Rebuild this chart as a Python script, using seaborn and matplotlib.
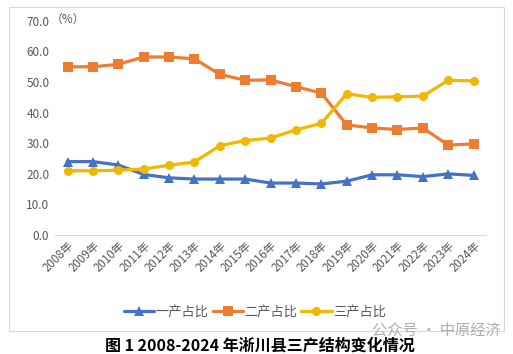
import pandas as pd
import seaborn as sns
import matplotlib.pyplot as plt
from matplotlib.patches import Rectangle

years = [f'{y}年' for y in range(2008, 2025)]
primary = [24.0, 24.0, 22.9, 19.8, 18.7, 18.3, 18.3, 18.3, 17.0, 17.0, 16.7, 17.6, 19.7, 19.7, 19.1, 20.0, 19.5]
secondary = [55.0, 55.0, 55.8, 58.2, 58.2, 57.6, 52.5, 50.6, 50.7, 48.5, 46.4, 36.0, 35.0, 34.5, 35.0, 29.4, 29.8]
tertiary = [21.0, 21.0, 21.2, 21.6, 22.8, 23.9, 29.2, 30.9, 31.7, 34.4, 36.5, 46.2, 45.0, 45.2, 45.4, 50.6, 50.4]
series_names = ['一产占比', '二产占比', '三产占比']
y_ticks = [0, 10, 20, 30, 40, 50, 60, 70]

sns.set_style('white')
plt.rcParams['font.family'] = ['Noto Sans CJK SC', 'DejaVu Sans']

df = pd.DataFrame({'年份': years * 3,
                   '值': primary + secondary + tertiary,
                   '类别': [n for n in series_names for _ in years]})
df['x'] = list(range(len(years))) * 3

palette = {'一产占比': '#4472C4', '二产占比': '#ED7D31', '三产占比': '#F0B800'}
markers = {'一产占比': '^', '二产占比': 's', '三产占比': 'o'}

fig = plt.figure(figsize=(5.13, 3.54), dpi=100)
ax = fig.add_axes([0.107, 0.336, 0.841, 0.605])

sns.lineplot(data=df, x='x', y='值', hue='类别', style='类别', markers=markers,
             dashes=False, palette=palette, linewidth=2.3, markersize=6.5,
             markeredgewidth=0, ax=ax)

ax.set_xlim(-0.5, len(years) - 0.5)
ax.set_ylim(0, 70)
ax.set_yticks(y_ticks)
ax.set_yticklabels([f'{v:.1f}' for v in y_ticks], fontsize=8.5, color='#595959')
ax.set_xticks(range(len(years)))
ax.set_xticklabels(years, rotation=45, ha='right', rotation_mode='anchor',
                   fontsize=8.3, color='#595959')
ax.tick_params(axis='both', length=0, pad=4)
ax.tick_params(axis='x', pad=3)
ax.set_xlabel('')
ax.set_ylabel('')
for s in ['top', 'right', 'left']:
    ax.spines[s].set_visible(False)
ax.spines['bottom'].set_color('#D9D9D9')
ax.text(-0.01, 70.5, '（%）', fontsize=8.5, color='#595959', va='center', ha='left',
        transform=ax.get_yaxis_transform())

handles, labels = ax.get_legend_handles_labels()
fig.legend(handles, labels, loc='center', bbox_to_anchor=(0.497, 0.119), ncol=3,
           frameon=False, fontsize=9.5, handlelength=2.3, handletextpad=0.1,
           columnspacing=0.3, labelcolor='#595959')
ax.get_legend().remove()

fig.patches.append(Rectangle((0.017, 0.065), 0.965, 0.915, transform=fig.transFigure,
                             fill=False, edgecolor='#D9D9D9', linewidth=0.8))

fig.text(0.507, 0.025, '图 1 2008-2024 年淅川县三产结构变化情况', ha='center', va='center',
         fontsize=11.5, fontweight='bold', color='#000000')
fig.text(0.85, 0.068, '公众号 · 中原经济', ha='center', va='center',
         fontsize=11, color='#AFAFAF')

fig.savefig('out.png', dpi=100)
